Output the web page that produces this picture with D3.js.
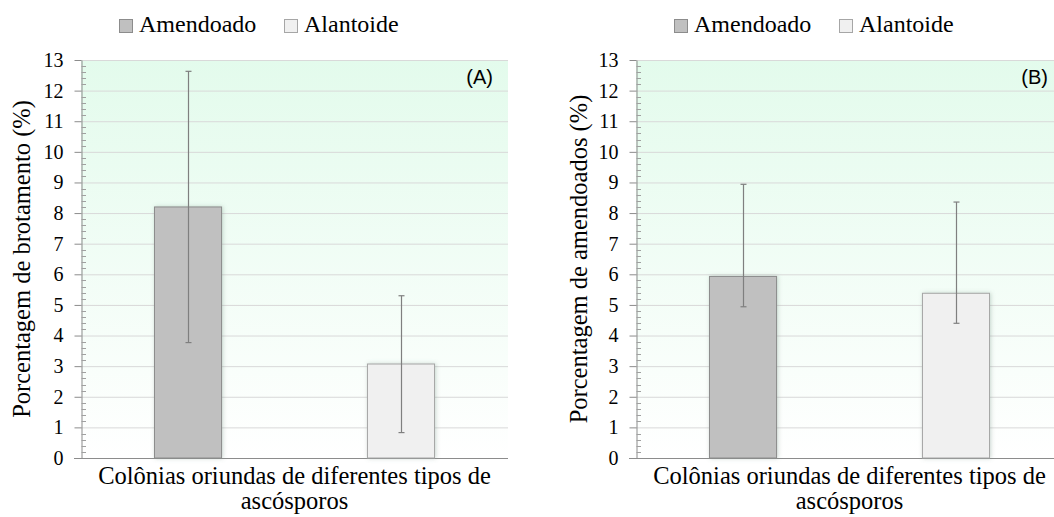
<!DOCTYPE html>
<html>
<head>
<meta charset="utf-8">
<script src="https://cdn.jsdelivr.net/npm/d3@7"></script>
<style>
  body { margin: 0; background: #fff; }
  svg { display: block; }
  .serif { font-family: 'Liberation Serif', 'Times New Roman', Times, 'DejaVu Serif', serif; }
  .sans { font-family: 'Liberation Sans', Arial, sans-serif; }
</style>
</head>
<body>
<svg id="chart" width="1054" height="517"></svg>
<script>
// data
const series = ['Amendoado', 'Alantoide'];
const categoryLines = ['Colônias oriundas de diferentes tipos de', 'ascósporos'];
const yTicks = d3.range(0, 14);

const meanA = [8.20, 3.07];
const upperA = [12.63, 5.30];
const lowerA = [3.77, 0.83];

const meanB = [5.93, 5.38];
const upperB = [8.94, 8.36];
const lowerB = [4.94, 4.40];

const panels = [
    { tag: '(A)', title: 'Porcentagem de brotamento (%)', mean: meanA, upper: upperA, lower: lowerA,
      left: 81, right: 508, titleX: 30, legendX: 119 },
    { tag: '(B)', title: 'Porcentagem de amendoados (%)', mean: meanB, upper: upperB, lower: lowerB,
      left: 636, right: 1063, titleX: 587, legendX: 674 }
];

const fills = ['#c0c0c0', '#f0f0f0'];
const strokes = ['#8c8c8c', '#a6a6a6'];

const svg = d3.select('#chart');
const defs = svg.append('defs');

const grad = defs.append('linearGradient')
    .attr('id', 'bg')
    .attr('x1', 0).attr('y1', 0).attr('x2', 0).attr('y2', 1);
grad.append('stop').attr('offset', '0%').attr('stop-color', '#e3fbec');
grad.append('stop').attr('offset', '100%').attr('stop-color', '#ffffff');

const shadow = defs.append('filter')
    .attr('id', 'shadow')
    .attr('x', '-30%').attr('y', '-10%').attr('width', '160%').attr('height', '120%');
shadow.append('feDropShadow')
    .attr('dx', 1).attr('dy', 0)
    .attr('stdDeviation', 2)
    .attr('flood-color', '#6f8f7f')
    .attr('flood-opacity', 0.35);

const plotTop = 60, plotBottom = 458;

panels.forEach(p => {
    const g = svg.append('g');

    const y = d3.scaleLinear().domain([0, 13]).range([plotBottom, plotTop]);
    const x = d3.scaleBand()
        .domain(series)
        .range([p.left, p.right])
        .paddingInner(0.685)
        .paddingOuter(0.345);

    // plot background
    g.append('rect')
        .attr('x', p.left).attr('y', plotTop)
        .attr('width', p.right - p.left).attr('height', plotBottom - plotTop)
        .attr('fill', 'url(#bg)');

    // gridlines
    g.selectAll('.grid')
        .data(yTicks.filter(d => d > 0))
        .enter().append('line')
        .attr('x1', p.left).attr('x2', p.right)
        .attr('y1', d => y(d) + 0.5).attr('y2', d => y(d) + 0.5)
        .attr('stroke', '#d9d9d9');

    // y axis with major ticks to the left
    const axis = g.append('g')
        .attr('transform', `translate(${p.left + 0.5},0)`)
        .call(d3.axisLeft(y).tickValues(yTicks).tickSize(7).tickPadding(11).tickSizeOuter(0));
    axis.attr('font-family', null).attr('font-size', null);
    axis.select('.domain').attr('stroke', '#8c8c8c');
    axis.selectAll('.tick line').attr('stroke', '#8c8c8c');
    axis.selectAll('.tick text')
        .attr('class', 'serif')
        .style('font-size', '20px')
        .attr('fill', '#000');

    // minor ticks inside the plot
    const minor = d3.range(0, 13, 0.2).filter(d => Math.abs(d - Math.round(d)) > 0.01);
    g.selectAll('.minor')
        .data(minor)
        .enter().append('line')
        .attr('x1', p.left + 0.5).attr('x2', p.left + 5)
        .attr('y1', d => Math.round(y(d)) + 0.5).attr('y2', d => Math.round(y(d)) + 0.5)
        .attr('stroke', '#a0a0a0');

    // x baseline
    g.append('line')
        .attr('x1', p.left - 7).attr('x2', p.right)
        .attr('y1', plotBottom + 0.5).attr('y2', plotBottom + 0.5)
        .attr('stroke', '#8c8c8c');

    // bars
    g.selectAll('.bar')
        .data(series)
        .enter().append('rect')
        .attr('x', d => x(d))
        .attr('y', (d, i) => y(p.mean[i]))
        .attr('width', x.bandwidth())
        .attr('height', (d, i) => plotBottom - y(p.mean[i]))
        .attr('fill', (d, i) => fills[i])
        .attr('stroke', (d, i) => strokes[i])
        .attr('stroke-width', 1)
        .attr('filter', 'url(#shadow)');

    // error bars
    const cx = d => Math.round(x(d) + x.bandwidth() / 2) + 0.5;
    series.forEach((s, i) => {
        const eg = g.append('g').attr('stroke', '#7f7f7f').attr('stroke-width', 1.2);
        eg.append('line')
            .attr('x1', cx(s)).attr('x2', cx(s))
            .attr('y1', y(p.upper[i])).attr('y2', y(p.lower[i]));
        [p.upper[i], p.lower[i]].forEach(v => {
            eg.append('line')
                .attr('x1', cx(s) - 3).attr('x2', cx(s) + 3)
                .attr('y1', y(v)).attr('y2', y(v));
        });
    });

    // panel tag
    g.append('text')
        .attr('class', 'sans')
        .attr('x', p.right - 15).attr('y', 84)
        .attr('text-anchor', 'end')
        .style('font-size', '20px')
        .text(p.tag);

    // y title
    g.append('text')
        .attr('class', 'serif')
        .attr('transform', `translate(${p.titleX},${(plotTop + plotBottom) / 2}) rotate(-90)`)
        .attr('text-anchor', 'middle')
        .style('font-size', '24.5px')
        .text(p.title);

    // x title
    const mid = (p.left + p.right) / 2;
    g.append('text')
        .attr('class', 'serif')
        .attr('text-anchor', 'middle')
        .style('font-size', '24.5px')
        .selectAll('tspan')
        .data(categoryLines)
        .enter().append('tspan')
        .attr('x', mid)
        .attr('y', (d, i) => 484 + i * 25)
        .text(d => d);

    // legend
    const lg = g.append('g').attr('transform', `translate(${p.legendX},0)`);
    const offsets = [0, 165];
    series.forEach((s, i) => {
        lg.append('rect')
            .attr('x', offsets[i] + 0.5).attr('y', 19.5)
            .attr('width', 13).attr('height', 13)
            .attr('fill', fills[i])
            .attr('stroke', strokes[i]);
        lg.append('text')
            .attr('class', 'serif')
            .attr('x', offsets[i] + 20).attr('y', 32)
            .style('font-size', '24px')
            .text(s);
    });
});
</script>
</body>
</html>
